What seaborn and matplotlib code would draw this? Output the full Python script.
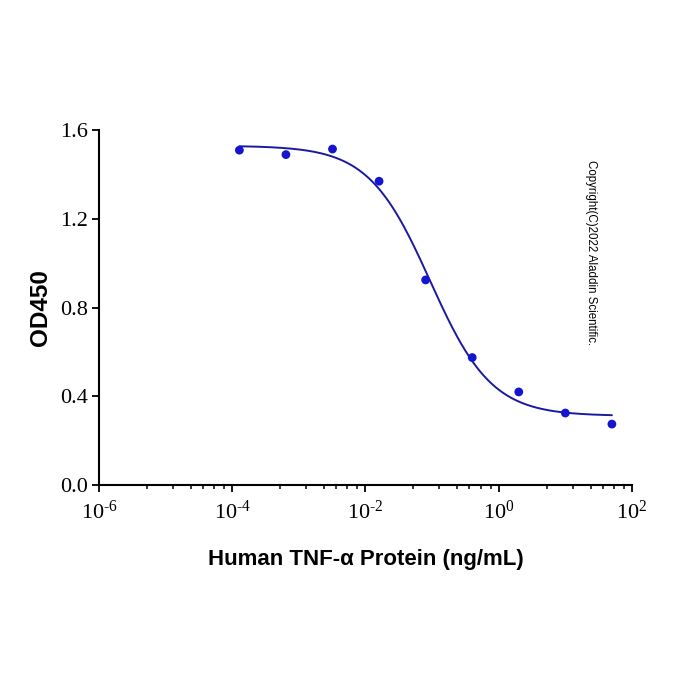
import numpy as np
import pandas as pd
import seaborn as sns
import matplotlib.pyplot as plt
from matplotlib.ticker import FixedLocator, NullFormatter

# dilution series (ng/mL) and measured OD450
conc = [0.000128, 0.00064, 0.0032, 0.016, 0.08, 0.4, 2.0, 10.0, 50.0]
od450 = [1.51, 1.49, 1.515, 1.37, 0.925, 0.575, 0.42, 0.325, 0.275]

x_major = [1e-6, 1e-4, 1e-2, 1e0, 1e2]
x_major_labels = [r'$\mathregular{10^{\text{-}6}}$', r'$\mathregular{10^{\text{-}4}}$',
                  r'$\mathregular{10^{\text{-}2}}$', r'$\mathregular{10^{0}}$', r'$\mathregular{10^{2}}$']
y_ticks = [0.0, 0.4, 0.8, 1.2, 1.6]

df = pd.DataFrame({'conc': conc, 'od': od450})

# 4PL fit of the points (grid over ec50 / hill, least squares for top / bottom)
xs = np.array(conc)
ys = np.array(od450)
best = None
for lec in np.linspace(-3, 1, 401):
    for h in np.linspace(0.3, 3, 271):
        f = 1 / (1 + (xs / 10**lec) ** h)
        A = np.column_stack([1 - f, f])
        coef, res, _, _ = np.linalg.lstsq(A, ys, rcond=None)
        err = np.sum((A @ coef - ys) ** 2)
        if best is None or err < best[0]:
            best = (err, lec, h, coef)
_, lec, h, (bottom, top) = best
xfit = np.logspace(np.log10(xs.min()), np.log10(xs.max()), 300)
fit_df = pd.DataFrame({'conc': xfit,
                       'od': bottom + (top - bottom) / (1 + (xfit / 10**lec) ** h)})

sns.set_style('ticks')
plt.rcParams['font.family'] = ['Liberation Serif', 'DejaVu Serif']
plt.rcParams['mathtext.fontset'] = 'custom'
plt.rcParams['mathtext.rm'] = 'Liberation Serif'
plt.rcParams['text.color'] = 'black'
plt.rcParams['axes.labelcolor'] = 'black'
plt.rcParams['xtick.color'] = 'black'
plt.rcParams['ytick.color'] = 'black'

fig = plt.figure(figsize=(7, 7), dpi=100)
ax = fig.add_axes([0.1414, 0.307, 0.7614, 0.507])

sns.lineplot(data=fit_df, x='conc', y='od', ax=ax, color='#1a1aa0', linewidth=1.4)
sns.scatterplot(data=df, x='conc', y='od', ax=ax, color='#1515d0', s=40, edgecolor='none', zorder=3)

ax.set_xscale('log')
ax.set_xlim(1e-6, 1e2)
ax.set_ylim(0, 1.6)
ax.xaxis.set_major_locator(FixedLocator(x_major))
ax.set_xticklabels(x_major_labels)
minor = []
for m in x_major[:-1]:
    for d in [0.72, 1.11, 1.38, 1.56, 1.73, 1.88]:
        minor.append(m * 10**d)
ax.xaxis.set_minor_locator(FixedLocator(minor))
ax.xaxis.set_minor_formatter(NullFormatter())
ax.set_yticks(y_ticks)
ax.set_yticklabels(['%.1f' % v for v in y_ticks])

ax.tick_params(axis='both', which='major', direction='out', length=5, width=1.3,
               labelsize=16, color='black', labelcolor='black', pad=3)
ax.tick_params(axis='x', which='major', pad=6)
ax.tick_params(axis='x', which='minor', direction='out', length=3, width=1.1)
sns.despine(ax=ax)
for s in ['left', 'bottom']:
    ax.spines[s].set_linewidth(1.5)
    ax.spines[s].set_color('black')

ax.set_xlabel('Human TNF-α Protein (ng/mL)', family=['Liberation Sans', 'DejaVu Sans'],
              fontsize=16, fontweight='bold', labelpad=18, color='black')
ax.set_ylabel('OD450', family=['Liberation Sans', 'DejaVu Sans'],
              fontsize=17.5, fontweight='bold', labelpad=6, color='black')

ax.text(0.923, 0.915, 'Copyright(C)2022 Aladdin Scientific.', transform=ax.transAxes,
        rotation=270, ha='center', va='top', fontsize=8.3, color='black',
        family=['Liberation Sans', 'DejaVu Sans'])

fig.savefig('out.png', dpi=100, facecolor='white')
